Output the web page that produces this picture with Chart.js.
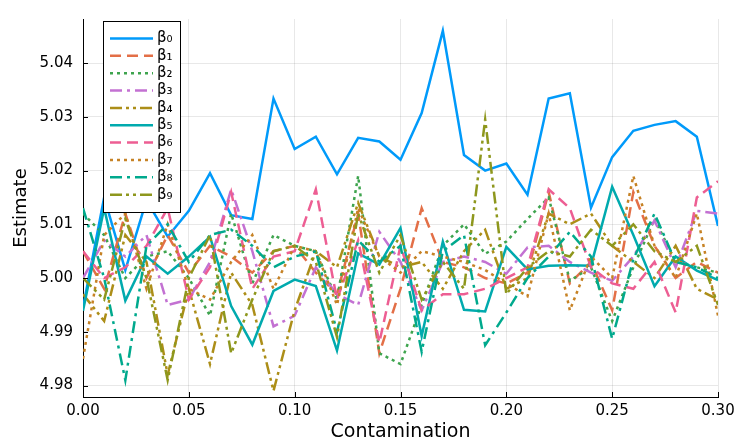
<!DOCTYPE html>
<html>
<head>
<meta charset="utf-8">
<script src="https://cdn.jsdelivr.net/npm/chart.js@4/dist/chart.umd.min.js"></script>
<style>
  html, body { margin: 0; padding: 0; background: #fff; }
  #wrap { width: 736px; height: 443px; }
</style>
</head>
<body>
<div id="wrap"><canvas id="c" width="736" height="443"></canvas></div>
<script>
const contamination = [0.00,0.01,0.02,0.03,0.04,0.05,0.06,0.07,0.08,0.09,0.10,0.11,0.12,0.13,0.14,0.15,0.16,0.17,0.18,0.19,0.20,0.21,0.22,0.23,0.24,0.25,0.26,0.27,0.28,0.29,0.30];

const beta0 = [4.9945,5.0150,5.0015,5.0145,5.0077,5.0125,5.0195,5.0117,5.0110,5.0334,5.0240,5.0263,5.0193,5.0261,5.0254,5.0220,5.0307,5.0460,5.0229,5.0200,5.0213,5.0155,5.0334,5.0344,5.0131,5.0225,5.0274,5.0285,5.0292,5.0263,5.0097];
const beta1 = [5.005,4.998,5.012,5.000,5.008,5.001,5.006,5.004,5.001,5.005,5.006,5.001,4.997,5.012,4.986,4.998,5.013,5.003,5.002,5.000,4.999,5.001,5.016,4.999,5.003,4.994,5.016,5.006,5.000,5.003,5.001];
const beta2 = [5.012,5.008,5.000,5.004,5.005,5.000,4.993,5.012,4.999,5.008,5.006,5.005,4.996,5.019,4.986,4.984,4.995,5.006,5.010,5.0045,5.0068,5.011,5.015,4.9995,5.002,4.992,5.002,5.011,5.003,5.002,5.001];
const beta3 = [5.000,5.007,5.004,5.008,4.995,4.996,5.003,5.0165,5.005,4.991,4.993,5.002,4.997,4.995,5.0086,5.003,4.994,5.003,5.004,5.003,5.0008,5.0057,5.006,5.003,5.001,4.9995,5.004,5.0107,5.002,5.0125,5.012];
const beta4 = [4.997,4.992,5.008,5.003,4.982,4.998,4.984,5.001,4.995,4.979,4.994,5.005,5.002,5.014,5.004,5.002,5.003,4.998,5.005,5.009,4.998,5.000,5.012,5.010,5.012,5.006,5.003,5.000,5.006,4.998,4.996];
const beta5 = [4.9939,5.0130,4.9958,5.0040,5.0008,5.0040,5.0077,4.9948,4.9876,4.9976,4.9997,4.9985,4.9865,5.0046,5.0025,5.0093,4.9892,5.0068,4.9941,4.9938,5.0058,5.0016,5.0023,5.0024,5.0023,5.0170,5.0080,4.9985,5.0040,5.0014,4.9996];
const beta6 = [5.005,5.000,5.002,5.006,5.013,4.996,5.002,5.016,4.998,5.004,5.005,5.0165,4.996,5.007,4.988,5.006,4.994,4.997,4.997,4.998,5.000,5.002,5.0165,5.013,5.002,4.999,4.998,5.003,4.9936,5.015,5.018];
const beta7 = [4.985,5.008,5.012,4.998,5.010,4.998,4.996,5.003,5.008,4.998,5.006,5.005,4.995,5.013,5.004,5.001,5.005,5.004,5.003,5.0015,4.999,4.9966,5.012,4.994,5.004,5.000,5.019,5.006,5.000,5.012,4.993];
const beta8 = [5.013,5.000,4.981,5.006,5.010,5.003,5.008,5.009,5.006,5.002,5.004,5.005,4.990,5.007,5.003,5.006,4.9863,5.005,5.008,4.9875,4.9936,5.000,5.004,5.0086,5.004,4.9887,5.0035,5.012,5.003,5.002,5.000];
const beta9 = [5.000,4.996,5.011,5.000,4.981,5.000,5.008,4.986,4.996,5.005,5.006,5.003,4.989,5.012,5.001,5.008,4.996,5.003,4.998,5.0295,4.997,5.002,5.005,5.004,5.009,5.006,5.010,5.005,5.003,5.006,4.995];

const seriesLabels = ['β₀','β₁','β₂','β₃','β₄','β₅','β₆','β₇','β₈','β₉'];
const xTickValues = [0.00,0.05,0.10,0.15,0.20,0.25,0.30];
const yTickValues = [4.98,4.99,5.00,5.01,5.02,5.03,5.04];

const seriesValues = [beta0,beta1,beta2,beta3,beta4,beta5,beta6,beta7,beta8,beta9];
const colors = ['#009AFA','#E36F47','#3EA44E','#C371D2','#AC8E18','#00AAAE','#ED5E93','#C68225','#00A98D','#8E971D'];
const dashes = [[],[11,6],[3,4],[12,5,3,5],[12,4,3,4,3,4],[],[11,6],[3,4],[12,5,3,5],[12,4,3,4,3,4]];
const LW = 2.5;

const datasets = seriesValues.map((vals, i) => ({
  label: seriesLabels[i],
  data: vals.map((v, j) => ({x: contamination[j], y: v})),
  borderColor: colors[i],
  backgroundColor: colors[i],
  borderWidth: LW,
  borderDash: dashes[i],
  pointRadius: 0,
  tension: 0,
  fill: false,
  order: 9 - i
}));

const FONT = "'DejaVu Sans', sans-serif";

const innerTicks = {
  id: 'innerTicks',
  afterDraw(chart) {
    const ctx = chart.ctx, a = chart.chartArea;
    const xs = chart.scales.x, ys = chart.scales.y;
    ctx.save();
    ctx.strokeStyle = '#000';
    ctx.lineWidth = 1;
    ctx.beginPath();
    xTickValues.forEach(v => {
      const px = Math.round(xs.getPixelForValue(v)) + 0.5;
      ctx.moveTo(px, a.bottom); ctx.lineTo(px, a.bottom - 5);
    });
    yTickValues.forEach(v => {
      const py = Math.round(ys.getPixelForValue(v)) + 0.5;
      ctx.moveTo(a.left, py); ctx.lineTo(a.left + 5, py);
    });
    ctx.stroke();
    ctx.restore();
  }
};

const boxLegend = {
  id: 'boxLegend',
  afterDraw(chart) {
    const ctx = chart.ctx;
    const L = 103.5, T = 21.5, W = 77, H = 191;
    ctx.save();
    ctx.fillStyle = '#fff';
    ctx.fillRect(L, T, W, H);
    ctx.strokeStyle = '#000';
    ctx.lineWidth = 1;
    ctx.strokeRect(L, T, W, H);
    const rowH = 17.35;
    for (let i = 0; i < seriesLabels.length; i++) {
      const y = 38.5 + i * rowH;
      ctx.beginPath();
      ctx.strokeStyle = colors[i];
      ctx.lineWidth = LW;
      ctx.setLineDash(dashes[i]);
      ctx.moveTo(110, y); ctx.lineTo(153, y);
      ctx.stroke();
      ctx.setLineDash([]);
      ctx.fillStyle = '#000';
      ctx.font = "15px " + FONT;
      ctx.textBaseline = 'middle';
      ctx.textAlign = 'left';
      ctx.fillText(seriesLabels[i], 157, y);
    }
    ctx.restore();
  }
};

new Chart(document.getElementById('c'), {
  type: 'line',
  data: { datasets },
  plugins: [innerTicks, boxLegend],
  options: {
    responsive: false,
    animation: false,
    devicePixelRatio: 1,
    layout: { padding: { left: 0, right: 18, top: 8, bottom: 0 } },
    plugins: { legend: { display: false }, tooltip: { enabled: false } },
    scales: {
      x: {
        type: 'linear',
        min: 0, max: 0.30,
        afterBuildTicks(scale) { scale.ticks = xTickValues.map(v => ({value: v})); },
        afterFit(scale) { scale.height = 46; scale.paddingLeft = 0; scale.paddingRight = 0; },
        ticks: {
          padding: 5,
          color: '#000',
          font: { family: FONT, size: 15 },
          maxRotation: 0,
          callback: v => Number(v).toFixed(2)
        },
        grid: { color: 'rgba(0,0,0,0.09)', drawTicks: false, lineWidth: 1 },
        border: { display: true, color: '#000', width: 1 },
        title: { display: true, text: 'Contamination', color: '#000', font: { family: FONT, size: 19 }, padding: { top: 0, bottom: 0 } }
      },
      y: {
        type: 'linear',
        min: 4.97787, max: 5.0482,
        afterBuildTicks(scale) { scale.ticks = yTickValues.map(v => ({value: v})); },
        afterFit(scale) { scale.width = 83; },
        ticks: {
          padding: 10,
          color: '#000',
          font: { family: FONT, size: 15 },
          callback: v => Number(v).toFixed(2)
        },
        grid: { color: 'rgba(0,0,0,0.09)', drawTicks: false, lineWidth: 1 },
        border: { display: true, color: '#000', width: 1 },
        title: { display: true, text: 'Estimate', color: '#000', font: { family: FONT, size: 18 }, padding: { top: 11, bottom: 0 } }
      }
    }
  }
});
</script>
</body>
</html>
